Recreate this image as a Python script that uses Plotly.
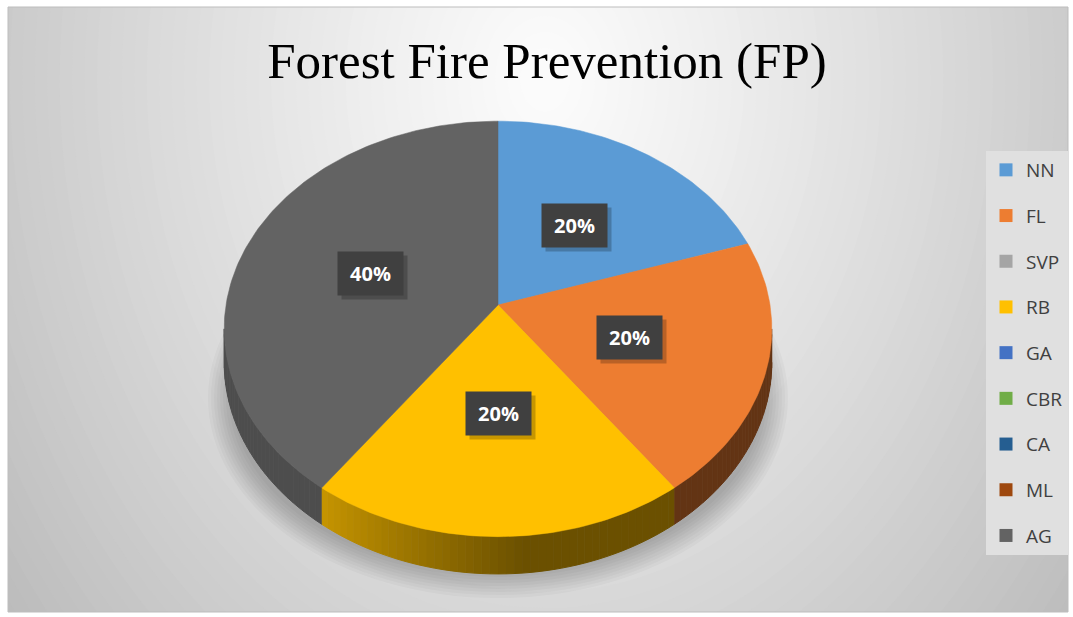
import numpy as np
import plotly.graph_objects as go

# ---------------- data ----------------
categories = ["NN", "FL", "SVP", "RB", "GA", "CBR", "CA", "ML", "AG"]
values = [20, 20, 0, 20, 0, 0, 0, 0, 40]
colors = ["#5B9BD5", "#ED7D31", "#A5A5A5", "#FFC000", "#4472C4",
          "#70AD47", "#255E91", "#9E480E", "#636363"]
title_text = "Forest Fire Prevention (FP)"

# ---------------- geometry / style ----------------
W, H = 1073, 617
L, R, T, B = 8, 1068, 7, 612          # chart-area box in page pixels
CX, CY = 498, 305                     # pie apex
RX, RY, PA, DEPTH = 272, 205, 0.115, 33


def hex2rgb(h):
    h = h.lstrip("#")
    return tuple(int(h[i:i + 2], 16) for i in (0, 2, 4))


def proj(theta, f=1.0):
    th = np.radians(theta)
    d = 1 + PA * f * np.cos(th)
    x = CX + RX * f * np.sin(th) / d
    y = CY - RY * f * np.cos(th) / d
    return x, y, d


def side_k(theta):
    return 0.42 + 0.36 * np.clip((theta - 175) / 41.0, 0, 1)


fig = go.Figure()
shapes = []

# background radial gradient (smooth)
N = 90
gx, gy = 545, 80
for i in range(N):
    dd = 1.6 * (1 - i / N)
    c = 252 - 66 * min(dd, 1.0) ** 1.15
    shapes.append(dict(type="circle", xref="x", yref="y", layer="below",
                       x0=gx - 700 * dd, x1=gx + 700 * dd,
                       y0=gy - 900 * dd, y1=gy + 900 * dd,
                       fillcolor=f"rgb({c:.1f},{c:.1f},{c:.1f})",
                       line=dict(width=0)))
# soft shadow under pie
for k in range(9):
    rx = 290 - 3 * k
    ry = 200 - 3 * k
    sx, sy = 498, 398
    shapes.append(dict(type="circle", xref="x", yref="y", layer="below",
                       x0=sx - rx, x1=sx + rx, y0=sy - ry, y1=sy + ry,
                       fillcolor="rgba(0,0,0,0.028)", line=dict(width=0)))

total = float(sum(values))
bounds = []
acc = 0.0
for v in values:
    a0 = acc / total * 360
    acc += v
    a1 = acc / total * 360
    bounds.append((a0, a1))

VIS0 = np.degrees(np.arccos(-PA))
VIS1 = 360 - VIS0

# side walls
for (a0, a1), v, col in zip(bounds, values, colors):
    if v <= 0:
        continue
    s0, s1 = max(a0, VIS0), min(a1, VIS1)
    if s1 <= s0:
        continue
    n = max(2, int((s1 - s0) / 1.5))
    th = np.linspace(s0, s1, n + 1)
    base = hex2rgb(col)
    for i in range(n):
        seg = np.array([th[i], th[i + 1]])
        x, y, d = proj(seg)
        yb = y + DEPTH / d
        k = side_k((seg[0] + seg[1]) / 2)
        cc = "rgb(%d,%d,%d)" % tuple(int(b * k) for b in base)
        fig.add_trace(go.Scatter(
            x=list(x) + list(x[::-1]), y=list(y) + list(yb[::-1]),
            fill="toself", fillcolor=cc, mode="lines",
            line=dict(color=cc, width=1), showlegend=False, hoverinfo="skip"))

# top faces
annotations = []
for (a0, a1), v, col, cat in zip(bounds, values, colors, categories):
    if v <= 0:
        continue
    th = np.linspace(a0, a1, max(3, int(a1 - a0) + 1))
    x, y, _ = proj(th)
    fig.add_trace(go.Scatter(
        x=[CX] + list(x) + [CX], y=[CY] + list(y) + [CY],
        fill="toself", fillcolor=col, mode="lines",
        line=dict(color=col, width=0.5), showlegend=False, hoverinfo="skip"))
    lx, ly, _ = proj((a0 + a1) / 2, 0.5)
    pct = f"{v / total * 100:.0f}%"
    annotations.append(dict(x=lx, y=ly, xref="x", yref="y", text=" ",
                            showarrow=False, width=63, height=41,
                            bgcolor="rgba(0,0,0,0.22)", xshift=4, yshift=-4))
    annotations.append(dict(x=lx, y=ly, xref="x", yref="y",
                            text=f"<b>{pct}</b>", showarrow=False,
                            width=63, height=41, bgcolor="#404040",
                            font=dict(family="Open Sans", size=20,
                                      color="white")))

# legend entries
for cat, col in zip(categories, colors):
    fig.add_trace(go.Scatter(
        x=[None], y=[None], mode="markers", name=cat, legendgroup=cat,
        marker=dict(symbol="square", size=13, color=col),
        showlegend=True, hoverinfo="skip"))

# chart border
shapes.append(dict(type="rect", xref="paper", yref="paper",
                   x0=0, x1=1, y0=0, y1=1, layer="above",
                   line=dict(color="#bdbdbd", width=1)))

fig.update_layout(
    width=W, height=H,
    margin=dict(l=L, r=W - R, t=T, b=H - B),
    paper_bgcolor="white", plot_bgcolor="#d0d0d0",
    xaxis=dict(range=[L, R], visible=False, fixedrange=True),
    yaxis=dict(range=[B, T], visible=False, fixedrange=True),
    shapes=shapes, annotations=annotations,
    title=dict(text=title_text, x=547 / W, y=1 - 60 / H,
               xanchor="center", yanchor="middle",
               font=dict(family="Liberation Serif", size=51, color="black")),
    legend=dict(x=(986 - L) / (R - L), y=(B - 151) / (B - T),
                xanchor="left", yanchor="top", bgcolor="#e0e0e0",
                font=dict(family="Open Sans", size=19, color="#404040"),
                tracegroupgap=18, itemwidth=30),
    hovermode=False,
)

fig.write_html("out.html")
